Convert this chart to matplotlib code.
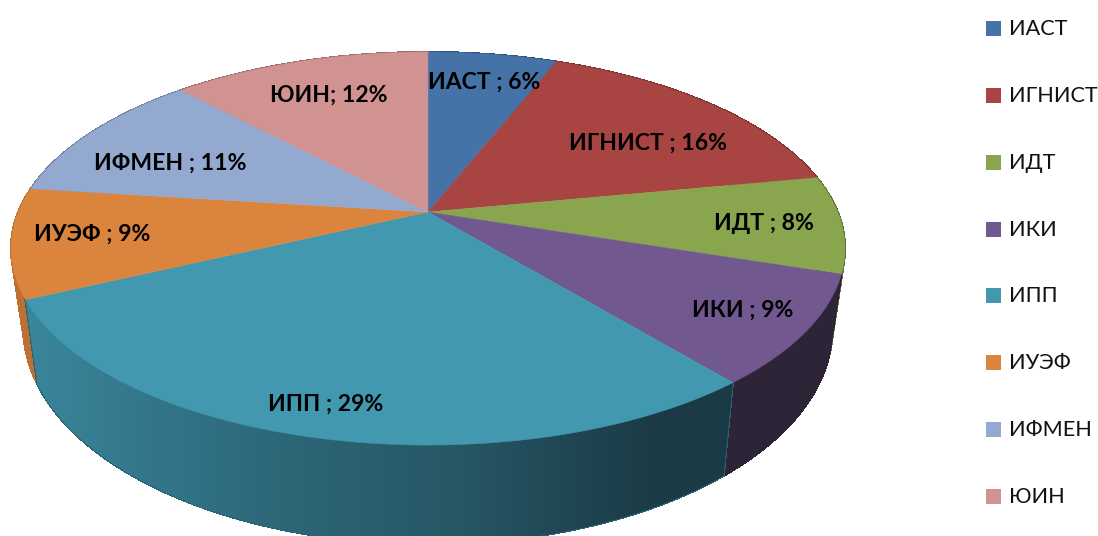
import numpy as np
import matplotlib
matplotlib.use("Agg")
import matplotlib.pyplot as plt
from matplotlib.collections import PolyCollection
from matplotlib.patches import Polygon, Rectangle

plt.rcParams['font.family'] = ['Lato', 'DejaVu Sans']

# Данные
categorias = ['ИАСТ', 'ИГНИСТ', 'ИДТ', 'ИКИ', 'ИПП', 'ИУЭФ', 'ИФМЕН', 'ЮИН']
valores = [6, 16, 8, 9, 29, 9, 11, 12]
rotulos = ['ИАСТ ; 6%', 'ИГНИСТ ; 16%', 'ИДТ ; 8%', 'ИКИ ; 9%',
           'ИПП ; 29%', 'ИУЭФ ; 9%', 'ИФМЕН ; 11%', 'ЮИН; 12%']

# Estilo
cores_topo = ['#4572a7', '#a84442', '#89a54e', '#71588f',
              '#4198af', '#db843d', '#93a9cf', '#d19392']
cores_parede = ['#33557d', '#7a3231', '#5f7040', '#2e2438',
                '#2b6372', '#bd7033', '#6f80a0', '#9c6f6e']
pos_rotulos = [(484, 82), (648, 143), (764, 224), (743, 310),
               (326, 404), (92, 234), (170, 163), (329, 95)]
legenda_y = [28, 95, 162, 229, 295, 362, 429, 496]

# Projecao em perspectiva do circulo unitario para pixels
cx, cy = 428, 212
a, b, k = 409.7, 150.3, -0.186


def topo(ang):
    u, v = np.sin(ang), -np.cos(ang)
    den = 1 + k * v
    return cx + a * u / den, (cy + b * v) / den


def base(ang):
    x, y = topo(ang)
    return cx + (x - cx) * 0.97, y * 1.0976 + 55.7


fig = plt.figure(figsize=(10.98, 5.36), dpi=100)
ax = fig.add_axes([0, 0, 1, 1])

bordas = np.cumsum([0] + valores) / sum(valores) * 2 * np.pi
arcos = [np.linspace(bordas[i], bordas[i + 1], 120) for i in range(len(valores))]

# Paredes (de tras para frente; ИПП por cima)
ordem = [0, 7, 1, 6, 2, 5, 3, 4]
for n, i in enumerate(ordem):
    z = 2 + n * 0.01
    xt, yt = topo(arcos[i])
    xb, yb = base(arcos[i])
    pts = np.column_stack([np.r_[xt, xb[::-1]], np.r_[yt, yb[::-1]]])
    # quads entre topo e base para fechar a silhueta nas laterais
    quads = [[(xt[j], yt[j]), (xt[j + 1], yt[j + 1]), (xb[j + 1], yb[j + 1]), (xb[j], yb[j])]
             for j in range(len(xt) - 1)]
    ax.add_collection(PolyCollection(quads, facecolors=cores_parede[i],
                                     edgecolors=cores_parede[i], linewidths=0.8,
                                     antialiaseds=False, zorder=z))
    pol = Polygon(pts, closed=True, fc=cores_parede[i], ec='none', zorder=z + 0.001)
    ax.add_patch(pol)
    if categorias[i] == 'ИПП':
        # Gradiente horizontal da parede frontal
        xs = np.arange(0, 1098)
        nos = [35, 150, 300, 450, 600, 660, 725]
        r = np.interp(xs, nos, [0x3a, 0x33, 0x2c, 0x27, 0x1e, 0x1b, 0x1a])
        g = np.interp(xs, nos, [0x85, 0x76, 0x65, 0x58, 0x42, 0x3b, 0x3a])
        bl = np.interp(xs, nos, [0x9a, 0x8b, 0x75, 0x66, 0x4e, 0x46, 0x45])
        grad = np.dstack([r, g, bl])[:] / 255
        im = ax.imshow(grad, extent=[0, 1098, 536, 0], aspect='auto', zorder=2.5)
        im.set_clip_path(pol)

# Fatias de cima
for i in range(len(valores)):
    xt, yt = topo(arcos[i])
    pts = np.column_stack([np.r_[cx, xt], np.r_[cy, yt]])
    ax.add_patch(Polygon(pts, closed=True, fc=cores_topo[i], ec=cores_topo[i],
                         lw=0.3, zorder=3))

for txt, (x, y) in zip(rotulos, pos_rotulos):
    ax.text(x, y, txt, ha='center', va='center', fontsize=16.6, fontweight='bold',
            color='black', zorder=5)

# Legenda
for i, nome in enumerate(categorias):
    ax.add_patch(Rectangle((986, legenda_y[i] - 7.5), 15, 15, fc=cores_topo[i],
                           ec='none', zorder=5))
    ax.text(1009, legenda_y[i] + 1, nome, ha='left', va='center', fontsize=15.6,
            color='#111111', zorder=5)

ax.set_xlim(0, 1098)
ax.set_ylim(536, 0)
ax.axis('off')
fig.savefig('out.png', dpi=100)
